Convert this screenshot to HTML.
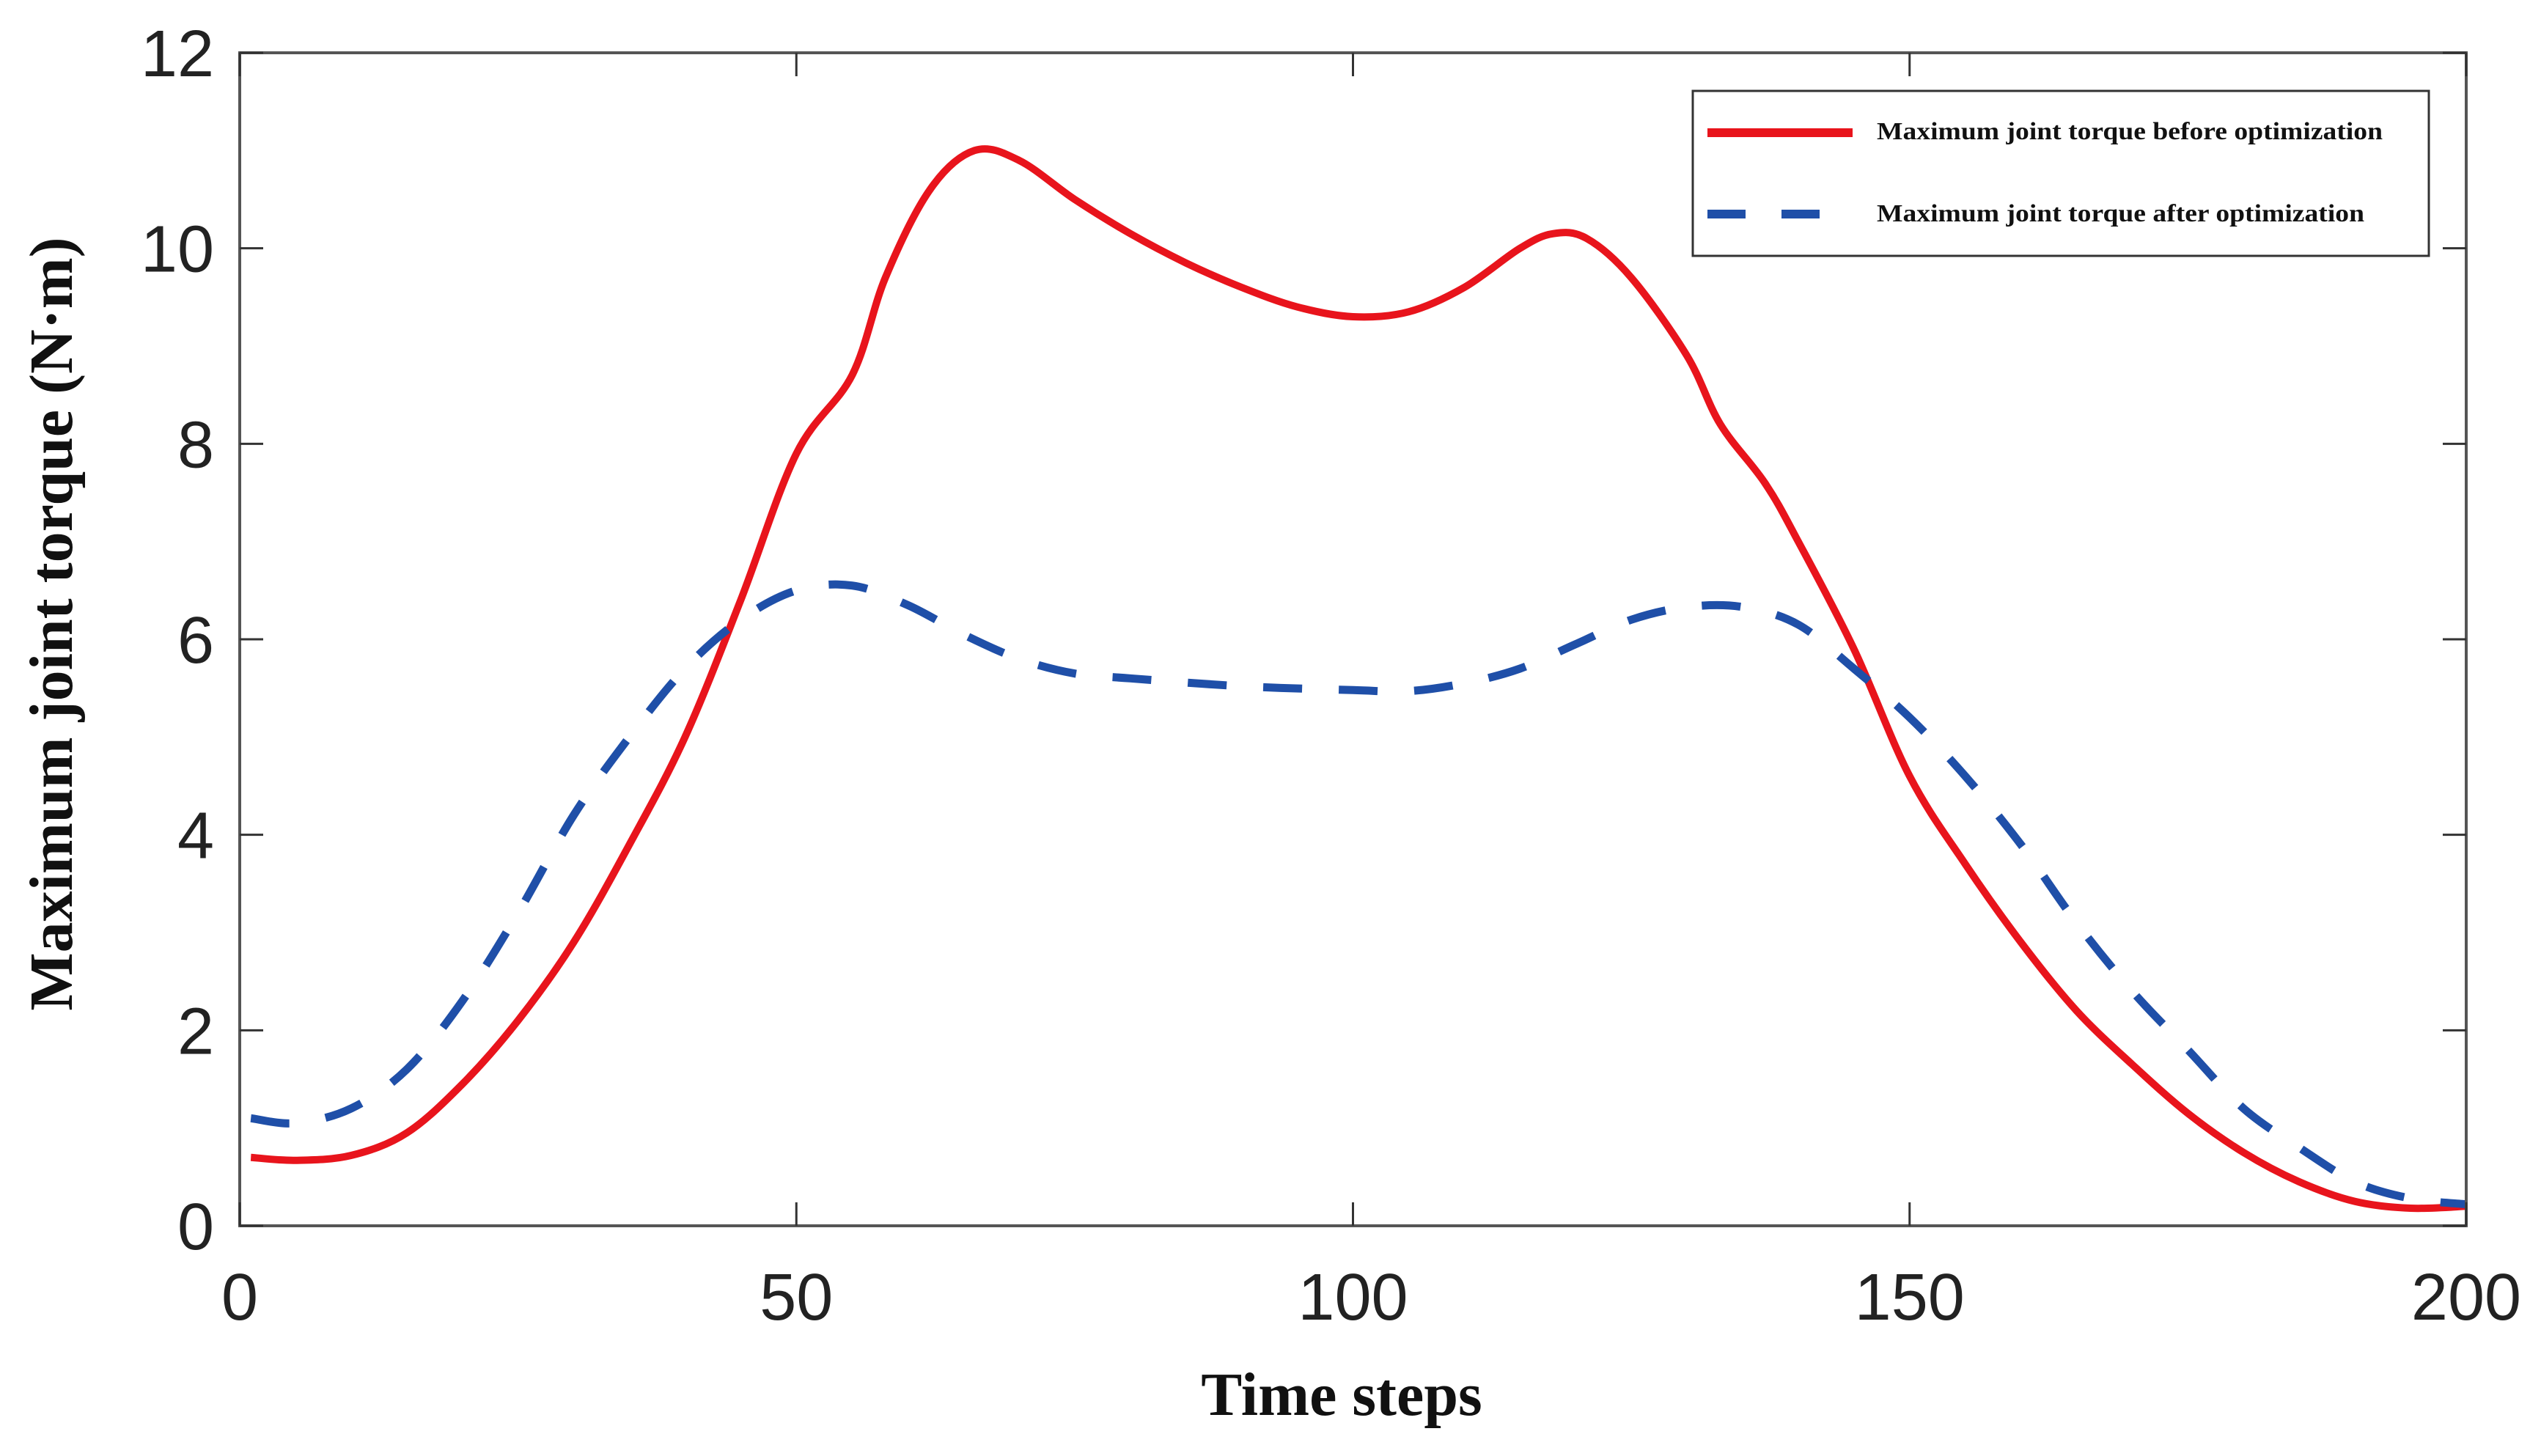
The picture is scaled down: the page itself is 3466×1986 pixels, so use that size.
<!DOCTYPE html>
<html><head><meta charset="utf-8"><style>
html,body{margin:0;padding:0;background:#fff;}
svg{display:block;}
</style></head><body>
<svg id="chart" width="3466" height="1986" viewBox="0 0 3466 1986" xmlns="http://www.w3.org/2000/svg">
<rect x="0" y="0" width="3466" height="1986" fill="#fff"/>
<g id="marks"></g>
<g id="axes"></g>
<text x="1830" y="1930" font-family="Liberation Serif, serif" font-weight="bold" font-size="84" text-anchor="middle" fill="#111">Time steps</text>
<text x="0" y="0" transform="translate(98,851) rotate(-90)" font-family="Liberation Serif, serif" font-weight="bold" font-size="84" text-anchor="middle" fill="#111">Maximum joint torque (N·m)</text>
<g>
<rect x="2309" y="124" width="1004" height="225" fill="#fff" stroke="#333" stroke-width="3"/>
<line x1="2329" y1="181" x2="2527" y2="181" stroke="#e8141c" stroke-width="12"/>
<text x="2560" y="190" font-family="Liberation Serif, serif" font-weight="bold" font-size="34" textLength="690" lengthAdjust="spacingAndGlyphs" fill="#111">Maximum joint torque before optimization</text>
<line x1="2329" y1="292" x2="2482" y2="292" stroke="#1f4fa8" stroke-width="12" stroke-dasharray="52 49"/>
<text x="2560" y="302" font-family="Liberation Serif, serif" font-weight="bold" font-size="34" textLength="665" lengthAdjust="spacingAndGlyphs" fill="#111">Maximum joint torque after optimization</text>
</g>
</svg>
<script>
const beforeT = [1,5,10,15,20,25,30,35,40,45,50,55,58,62,66,70,75,80,85,90,95,100,105,110,115,118,121,125,130,133,137,140,145,150,155,160,165,170,175,180,185,190,195,200];
const beforeV = [0.7,0.67,0.72,0.95,1.45,2.1,2.9,3.9,5.0,6.4,7.9,8.7,9.7,10.6,11.0,10.9,10.5,10.15,9.85,9.6,9.4,9.3,9.35,9.6,10.0,10.15,10.1,9.7,8.9,8.2,7.6,7.0,5.9,4.6,3.7,2.9,2.2,1.65,1.15,0.75,0.45,0.25,0.18,0.2];
const afterT = [1,5,10,15,20,25,30,35,40,45,50,55,60,65,70,75,80,90,100,105,110,115,120,125,130,135,140,145,150,155,160,165,170,175,180,185,190,195,200];
const afterV = [1.1,1.05,1.2,1.6,2.3,3.2,4.2,5.0,5.7,6.2,6.5,6.55,6.35,6.05,5.8,5.65,5.6,5.52,5.48,5.47,5.55,5.7,5.95,6.2,6.33,6.33,6.15,5.7,5.2,4.6,3.9,3.1,2.4,1.8,1.2,0.8,0.45,0.28,0.22];
const xTicks = [0,50,100,150,200];
const yTicks = [0,2,4,6,8,10,12];
const xTickLabels = ["0","50","100","150","200"];
const yTickLabels = ["0","2","4","6","8","10","12"];

const L=327,R=3364,T=72,B=1672;
const NS="http://www.w3.org/2000/svg";
function xs(t){return L+(t-0)/(200-0)*(R-L);}
function ys(v){return B-(v-0)/(12-0)*(B-T);}
function mk(tag,attrs,parent){const e=document.createElementNS(NS,tag);for(const k in attrs)e.setAttribute(k,attrs[k]);parent.appendChild(e);return e;}
function smooth(ts,vs){
  const p=ts.map((t,i)=>[xs(t),ys(vs[i])]);
  let d="M"+p[0][0].toFixed(1)+","+p[0][1].toFixed(1);
  for(let i=0;i<p.length-1;i++){
    const p0=p[i-1]||p[i],p1=p[i],p2=p[i+1],p3=p[i+2]||p2;
    const c1=[p1[0]+(p2[0]-p0[0])/6,p1[1]+(p2[1]-p0[1])/6];
    const c2=[p2[0]-(p3[0]-p1[0])/6,p2[1]-(p3[1]-p1[1])/6];
    d+=" C"+c1[0].toFixed(1)+","+c1[1].toFixed(1)+" "+c2[0].toFixed(1)+","+c2[1].toFixed(1)+" "+p2[0].toFixed(1)+","+p2[1].toFixed(1);
  }
  return d;
}
const marks=document.getElementById('marks');
const axes=document.getElementById('axes');
const redLine=mk('path',{d:smooth(beforeT,beforeV),fill:'none',stroke:'#e8141c','stroke-width':10,'stroke-linejoin':'round'},marks);


const blueLine=mk('path',{d:smooth(afterT,afterV),fill:'none',stroke:'#1f4fa8','stroke-width':11,'stroke-dasharray':'53 50'},marks);



const frame=mk('rect',{x:L,y:T,width:R-L,height:B-T,fill:'none',stroke:'#555','stroke-width':4},axes);


xTicks.forEach((t,i)=>{
  const x=xs(t);
  const a=mk('line',{x1:x,y1:B,x2:x,y2:B-32,stroke:'#333','stroke-width':3},axes);
  
  
  const b=mk('line',{x1:x,y1:T,x2:x,y2:T+32,stroke:'#333','stroke-width':3},axes);
  
  
  const tx=mk('text',{x:x,y:1800,'font-family':'Liberation Sans, sans-serif','font-size':90,'text-anchor':'middle',fill:'#222'},axes);
  tx.textContent=xTickLabels[i];
  
  
});
yTicks.forEach((v,i)=>{
  const y=ys(v);
  const a=mk('line',{x1:L,y1:y,x2:L+32,y2:y,stroke:'#333','stroke-width':3},axes);
  
  
  const b=mk('line',{x1:R,y1:y,x2:R-32,y2:y,stroke:'#333','stroke-width':3},axes);
  
  
  const tx=mk('text',{x:292,y:y+32,'font-family':'Liberation Sans, sans-serif','font-size':90,'text-anchor':'end',fill:'#222'},axes);
  tx.textContent=yTickLabels[i];
  
  
});
</script>
</body></html>
